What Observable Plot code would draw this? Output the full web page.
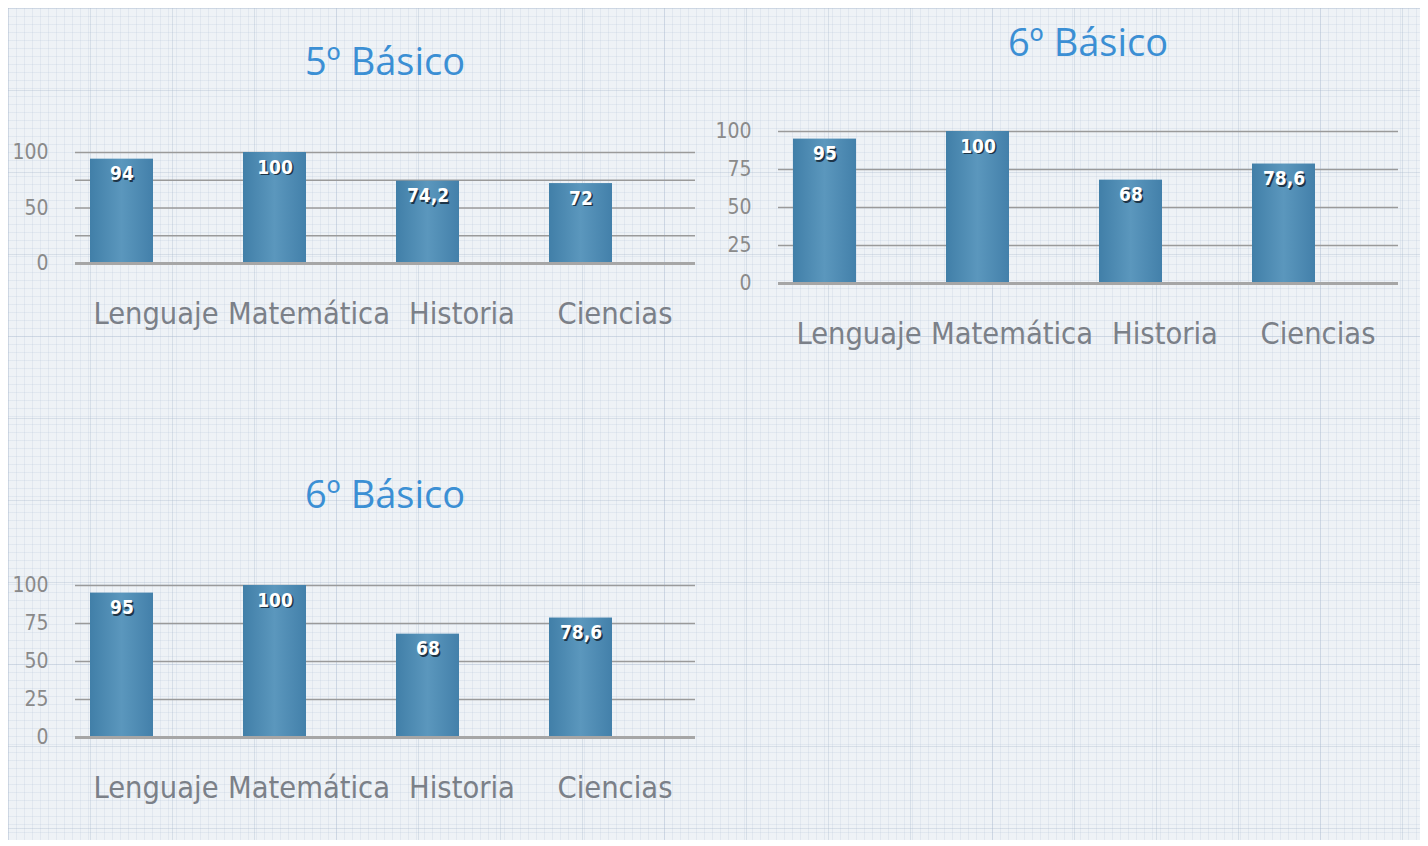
<!DOCTYPE html>
<html>
<head>
<meta charset="utf-8">
<script src="https://cdn.jsdelivr.net/npm/d3@7"></script>
<script src="https://cdn.jsdelivr.net/npm/@observablehq/plot@0.6"></script>
<style>
  html, body { margin: 0; padding: 0; background: #ffffff; }
  #page {
    position: absolute; left: 8px; top: 8px; width: 1412px; height: 832px;
    background-color: #eef2f6;
    background-image:
      linear-gradient(rgba(170,185,205,0.35) 1px, transparent 1px),
      linear-gradient(90deg, rgba(170,185,205,0.35) 1px, transparent 1px),
      linear-gradient(rgba(190,202,220,0.28) 1px, transparent 1px),
      linear-gradient(90deg, rgba(190,202,220,0.28) 1px, transparent 1px);
    background-size: 82px 82px, 82px 82px, 8px 8px, 8px 8px;
  }
  .chart { position: absolute; }
  .title {
    position: absolute; width: 400px; text-align: center;
    font-family: "Open Sans", "DejaVu Sans", sans-serif;
    font-size: 38px; line-height: 38px; color: #3b8fd4;
  }
</style>
</head>
<body>
<div id="root"></div>
<script>
const categories = ["Lenguaje", "Matemática", "Historia", "Ciencias"];
const values5 = [94, 100, 74.2, 72];
const values6 = [95, 100, 68, 78.6];
const values6b = [95, 100, 68, 78.6];
const gridValues = [0, 25, 50, 75, 100];
const ticksSparse = [0, 50, 100];
const ticksFull = [0, 25, 50, 75, 100];
const titles = ["5º Básico", "6º Básico", "6º Básico"];

const root = document.getElementById("root");
root.innerHTML = '<div id="page"></div>';

function addTitle(text, cx, cy) {
  const d = document.createElement("div");
  d.className = "title";
  d.textContent = text;
  d.style.left = (cx - 200) + "px";
  d.style.top = (cy - 21) + "px";
  root.appendChild(d);
}

function chart(id, values, ticks, frameH, left, top) {
  const data = categories.map((c, i) => ({
    cat: c, v: values[i], label: String(values[i]).replace(".", ",")
  }));
  const mt = 20, mb = 75, ml = 75, mr = 20, W = 715;
  const fill = "url(#barGrad" + id + ")";
  const labelFont = {fontSize: 19, fontWeight: "bold"};
  const p = Plot.plot({
    width: W, height: mt + frameH + mb,
    marginTop: mt, marginBottom: mb, marginLeft: ml, marginRight: mr,
    x: {domain: categories, range: [ml, ml + 551], paddingInner: 0.59, paddingOuter: 0.085},
    y: {domain: [0, 100]},
    style: {background: "transparent", overflow: "visible", fontFamily: "'DejaVu Sans Condensed', 'Liberation Sans Narrow', sans-serif"},
    marks: [
      Plot.ruleY(gridValues.filter(d => d > 0), {stroke: "#9a9a9a", strokeWidth: 1.3}),
      Plot.barY(data, {x: "cat", y: "v", fill}),
      Plot.ruleY([0], {stroke: "#a6a6a6", strokeWidth: 3}),
      Plot.text(data, {x: "cat", y: "v", text: "label", dy: 16.5, dx: 1.5, fill: "#1d3447", ...labelFont}),
      Plot.text(data, {x: "cat", y: "v", text: "label", dy: 15, fill: "#ffffff", ...labelFont}),
      Plot.axisX({tickSize: 0, tickPadding: 39, fontSize: 30.5, dx: 34, color: "#7b8088", label: null}),
      Plot.axisY({ticks, tickSize: 0, tickPadding: 27, fontSize: 21, color: "#8a8a8a", label: null})
    ]
  });
  const ns = "http://www.w3.org/2000/svg";
  const defs = document.createElementNS(ns, "defs");
  defs.innerHTML =
    '<linearGradient id="barGrad' + id + '" x1="0" x2="1" y1="0" y2="0">' +
    '<stop offset="0" stop-color="#417fa8"/>' +
    '<stop offset="0.5" stop-color="#5b97bd"/>' +
    '<stop offset="1" stop-color="#4380aa"/>' +
    '</linearGradient>';
  p.insertBefore(defs, p.firstChild);
  const wrap = document.createElement("div");
  wrap.className = "chart";
  wrap.style.left = left + "px";
  wrap.style.top = top + "px";
  wrap.appendChild(p);
  root.appendChild(wrap);
}

chart("A", values5, ticksSparse, 111, 0, 132);
chart("B", values6, ticksFull, 152, 703, 111);
chart("C", values6b, ticksFull, 152, 0, 565);

addTitle(titles[0], 385, 62);
addTitle(titles[1], 1088, 43);
addTitle(titles[2], 385, 495);
</script>
</body>
</html>
